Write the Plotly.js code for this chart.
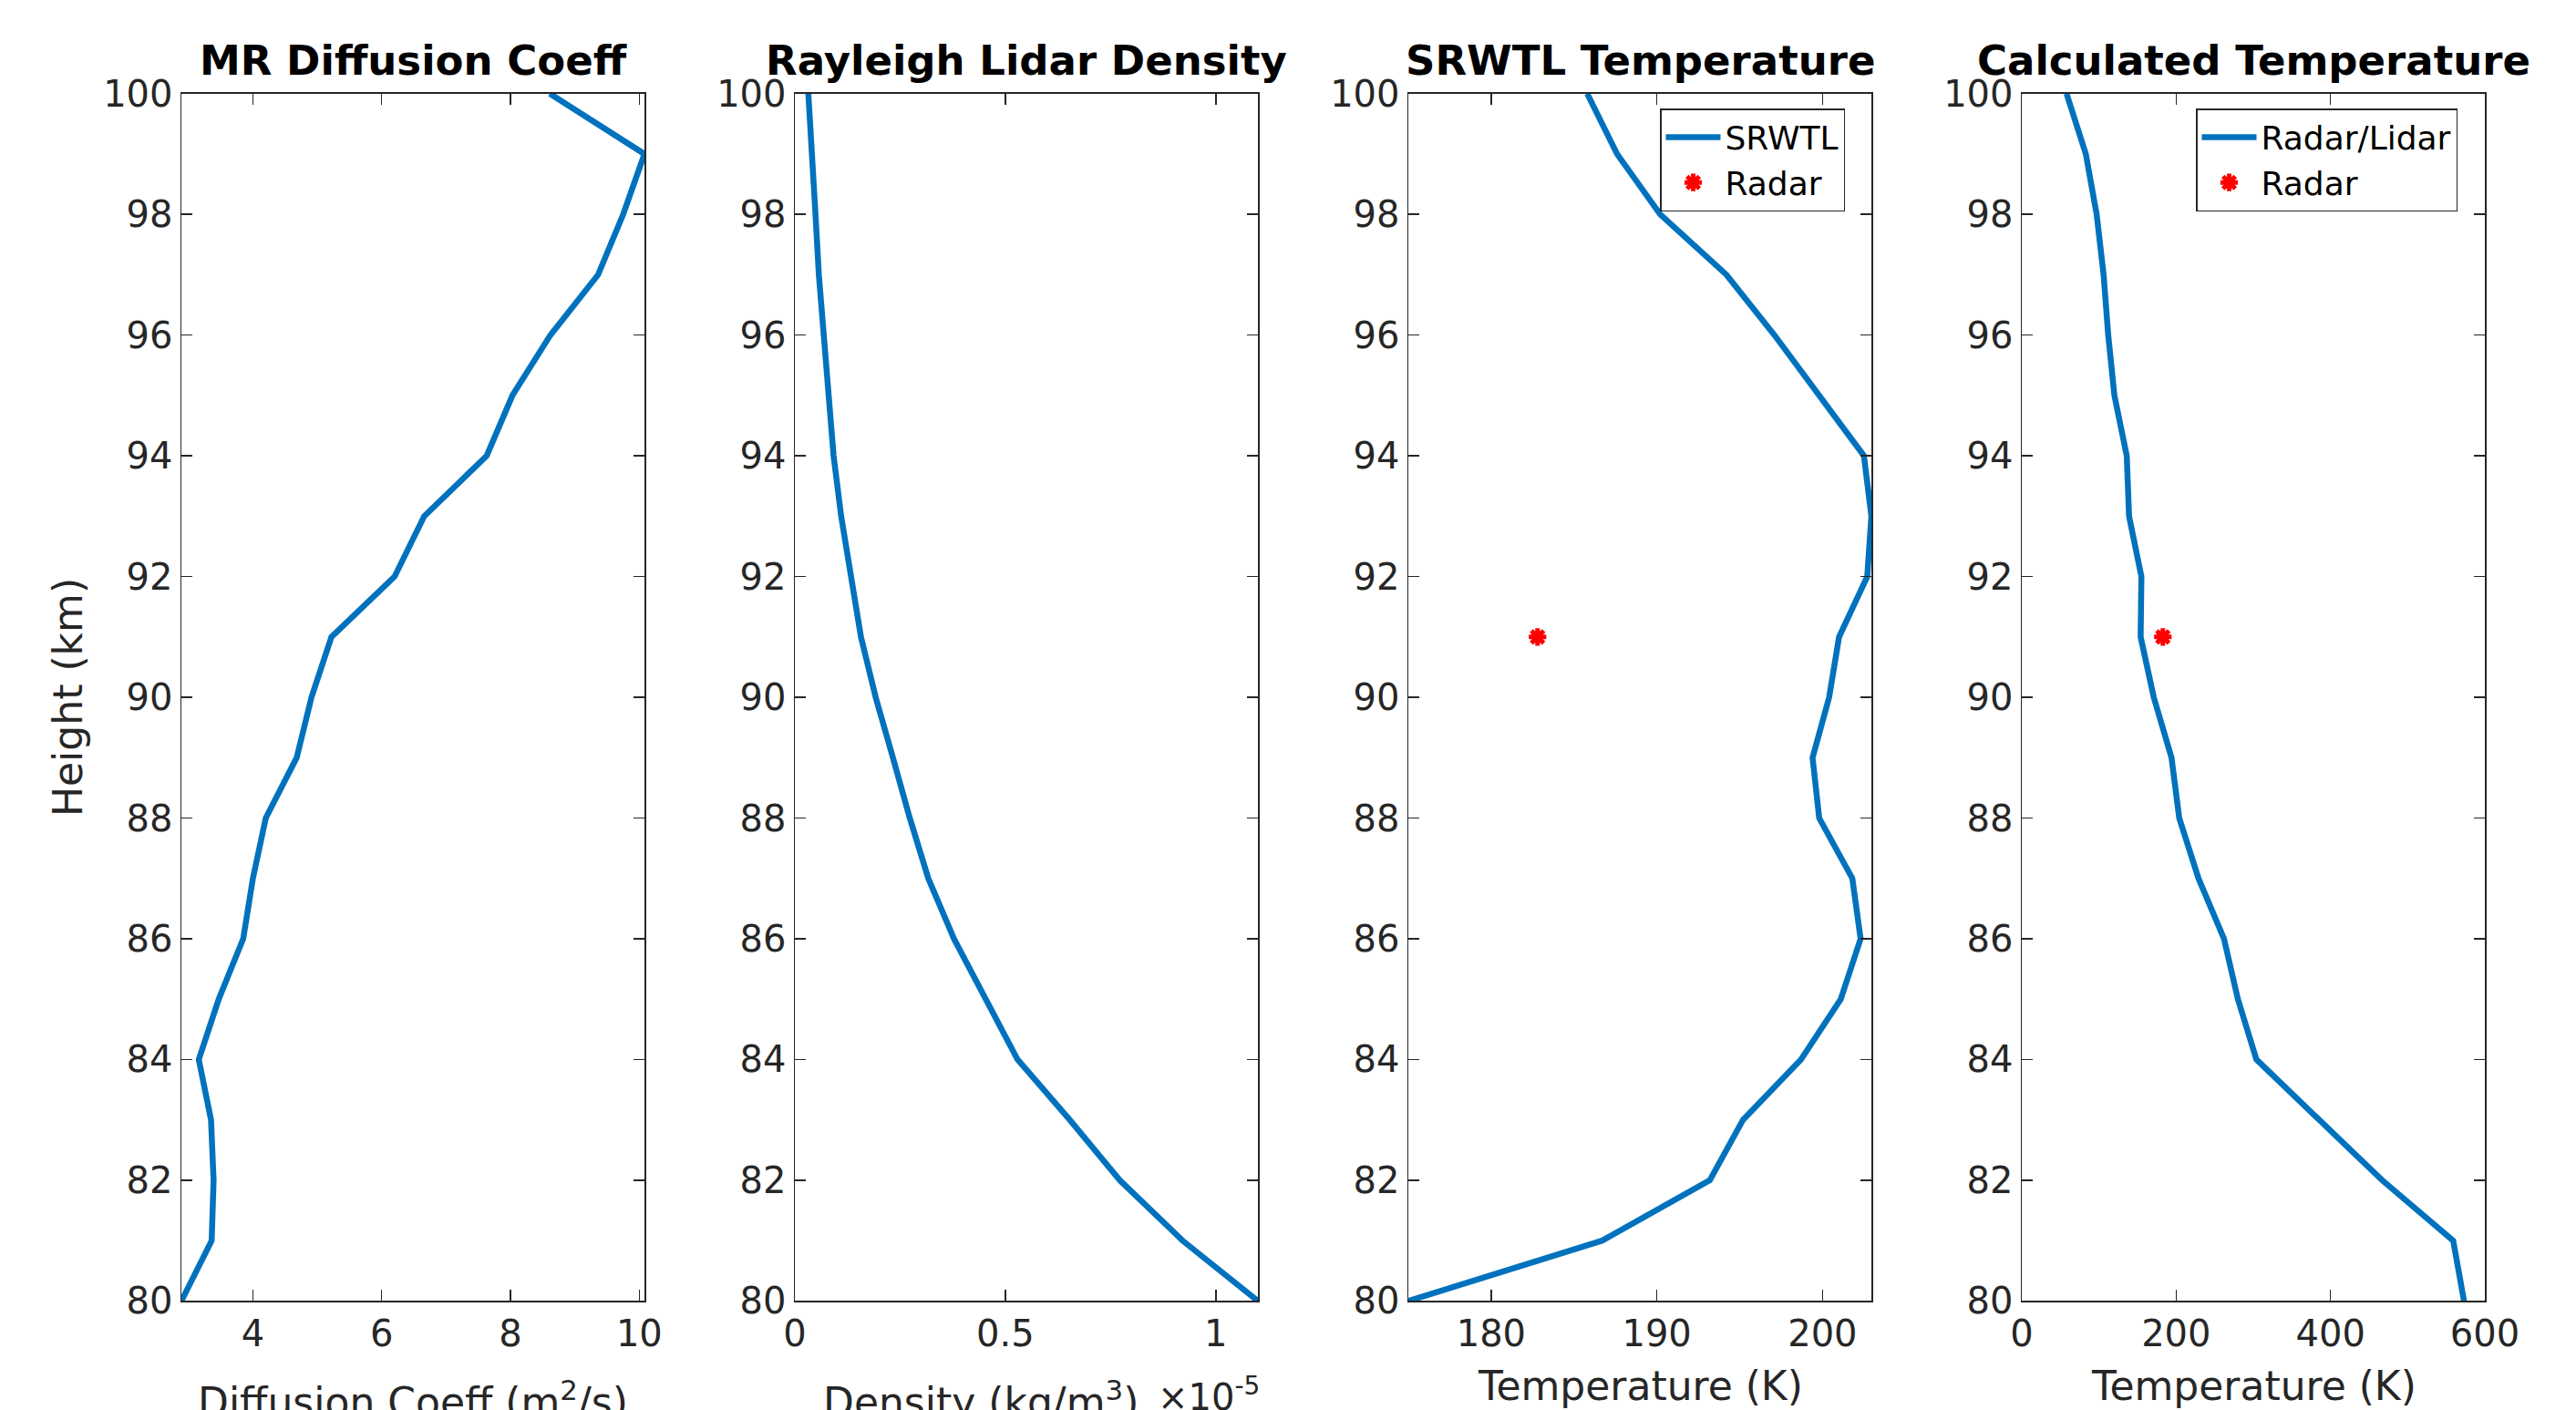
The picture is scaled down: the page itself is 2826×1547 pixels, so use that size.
<!DOCTYPE html>
<html>
<head>
<meta charset="utf-8">
<script src="https://cdn.plot.ly/plotly-3.0.1.min.js"></script>
<style>html,body{margin:0;padding:0;background:#fff;}#chart{width:2826px;height:1547px;}</style>
</head>
<body>
<div id="chart"></div>
<script>
// ---- data ----
const heights = [80, 81, 82, 83, 84, 85, 86, 87, 88, 89, 90, 91, 92, 93, 94, 95, 96, 97, 98, 99, 100];
const diffCoeff = [2.89, 3.36, 3.39, 3.35, 3.16, 3.47, 3.85, 4.00, 4.20, 4.68, 4.91, 5.22, 6.20, 6.66, 7.63, 8.03, 8.62, 9.36, 9.75, 10.08, 8.61];
const densityE5 = [1.100, 0.921, 0.772, 0.653, 0.529, 0.454, 0.378, 0.317, 0.273, 0.233, 0.192, 0.157, 0.132, 0.110, 0.092, 0.080, 0.068, 0.057, 0.049, 0.040, 0.032];
const srwtlTemp = [175.0, 186.7, 193.2, 195.2, 198.7, 201.1, 202.3, 201.8, 199.8, 199.4, 200.4, 201.0, 202.7, 202.95, 202.5, 199.8, 197.1, 194.2, 190.2, 187.6, 185.8];
const calcTemp = [573, 559, 467, 385, 304, 280, 262, 229, 204, 194, 171, 154, 155, 139, 136, 120, 112, 106, 97, 83, 58];
const radarHeight = [91];
const radarTemp = [182.8];

const ticks1 = [4, 6, 8, 10];
const ticks2 = [0, 0.5, 1];
const ticks3 = [180, 190, 200];
const ticks4 = [0, 200, 400, 600];
const heightTicks = [80, 82, 84, 86, 88, 90, 92, 94, 96, 98, 100];

const panelTitles = ['MR Diffusion Coeff', 'Rayleigh Lidar Density', 'SRWTL Temperature', 'Calculated Temperature'];
const xLabels = ['Diffusion Coeff (m<sup>2</sup>/s)', 'Density (kg/m<sup>3</sup>)', 'Temperature (K)', 'Temperature (K)'];
const yLabel = 'Height (km)';

// ---- styling / layout ----
const W = 2826, H = 1547;
const BLUE = '#0072BD';
const AX = '#262626';
const FONT = 'DejaVu Sans';
const lefts = [199, 872, 1545, 2218];
const pw = 508;
const topPx = 102.7, bottomPx = 1427.4;
const ydom = [(H - bottomPx) / H, (H - topPx) / H];

function xdom(i) { return [lefts[i] / W, (lefts[i] + pw) / W]; }
function px(xp) { return xp / W; }
function py(yp) { return (H - yp) / H; }

const axBase = {
  showline: true, linecolor: AX, linewidth: 1.5, mirror: 'ticks',
  ticks: 'inside', ticklen: 12, tickwidth: 1.5, tickcolor: AX,
  showgrid: false, zeroline: false,
  tickfont: {family: FONT, size: 40, color: AX}
};
function mkX(i, range, tv) {
  return Object.assign({}, axBase, {domain: xdom(i), range: range, tickmode: 'array', tickvals: tv, anchor: i === 0 ? 'y' : 'y' + (i + 1)});
}
function mkY(i) {
  return Object.assign({}, axBase, {domain: ydom, range: [80, 100], tickmode: 'array', tickvals: heightTicks, anchor: i === 0 ? 'x' : 'x' + (i + 1)});
}

const lineStyle = {color: BLUE, width: 6.5};
const radarMarker = {symbol: 'asterisk-open', size: 16, color: 'red', line: {color: 'red', width: 5}};

const traces = [
  {x: diffCoeff, y: heights, xaxis: 'x', yaxis: 'y', mode: 'lines', line: lineStyle, showlegend: false, name: 'Diffusion'},
  {x: densityE5, y: heights, xaxis: 'x2', yaxis: 'y2', mode: 'lines', line: lineStyle, showlegend: false, name: 'Density'},
  {x: srwtlTemp, y: heights, xaxis: 'x3', yaxis: 'y3', mode: 'lines', line: lineStyle, name: 'SRWTL', legend: 'legend'},
  {x: radarTemp, y: radarHeight, xaxis: 'x3', yaxis: 'y3', mode: 'markers', marker: radarMarker, name: 'Radar', legend: 'legend', cliponaxis: false},
  {x: calcTemp, y: heights, xaxis: 'x4', yaxis: 'y4', mode: 'lines', line: lineStyle, name: 'Radar/Lidar', legend: 'legend2'},
  {x: radarTemp, y: radarHeight, xaxis: 'x4', yaxis: 'y4', mode: 'markers', marker: radarMarker, name: 'Radar', legend: 'legend2', cliponaxis: false}
];

const annotations = [];
for (let i = 0; i < 4; i++) {
  annotations.push({
    text: '<b>' + panelTitles[i] + '</b>', xref: 'paper', yref: 'paper',
    x: px(lefts[i] + pw / 2), y: py(95), xanchor: 'center', yanchor: 'bottom',
    showarrow: false, font: {family: FONT, size: 45, color: '#000'}
  });
}
const xLabelCenters = [lefts[0] + pw / 2, 1076, lefts[2] + pw / 2, lefts[3] + pw / 2];
const xLabelTops = [1505, 1505, 1493, 1493];
for (let i = 0; i < 4; i++) {
  annotations.push({
    text: xLabels[i], xref: 'paper', yref: 'paper',
    x: px(xLabelCenters[i]), y: py(xLabelTops[i]), xanchor: 'center', yanchor: 'top',
    showarrow: false, font: {family: FONT, size: 44, color: AX}
  });
}
annotations.push({
  text: '\u00d710<sup>-5</sup>', xref: 'paper', yref: 'paper',
  x: px(1384), y: py(1502), xanchor: 'right', yanchor: 'top',
  showarrow: false, font: {family: FONT, size: 40, color: AX}
});
annotations.push({
  text: yLabel, xref: 'paper', yref: 'paper', textangle: -90,
  x: px(74), y: py((topPx + bottomPx) / 2), xanchor: 'center', yanchor: 'middle',
  showarrow: false, font: {family: FONT, size: 44, color: AX}
});

const legendBase = {
  xanchor: 'left', yanchor: 'top', bgcolor: '#fff', bordercolor: AX, borderwidth: 1.5,
  font: {family: FONT, size: 36, color: '#000'}, itemwidth: 60, tracegroupgap: 0
};

const layout = {
  width: W, height: H,
  margin: {l: 0, r: 0, t: 0, b: 0},
  paper_bgcolor: '#fff', plot_bgcolor: '#fff',
  font: {family: FONT, color: AX},
  xaxis: mkX(0, [Math.min(...diffCoeff), Math.max(...diffCoeff)], ticks1),
  xaxis2: mkX(1, [0, Math.max(...densityE5)], ticks2),
  xaxis3: mkX(2, [Math.min(...srwtlTemp), Math.max(...srwtlTemp)], ticks3),
  xaxis4: mkX(3, [0, 600], ticks4),
  yaxis: mkY(0), yaxis2: mkY(1), yaxis3: mkY(2), yaxis4: mkY(3),
  legend: Object.assign({}, legendBase, {x: px(1821), y: py(119)}),
  legend2: Object.assign({}, legendBase, {x: px(2409), y: py(119)}),
  annotations: annotations,
  showlegend: true
};

Plotly.newPlot('chart', traces, layout, {staticPlot: true, displayModeBar: false});
</script>
</body>
</html>
